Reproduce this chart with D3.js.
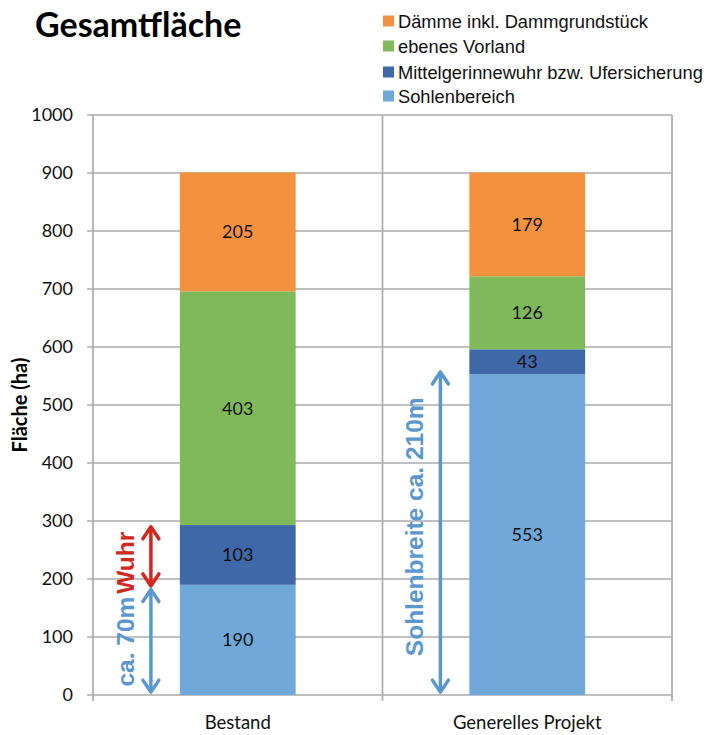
<!DOCTYPE html>
<html><head><meta charset="utf-8">
<script src="https://cdn.jsdelivr.net/npm/d3@7"></script>
<style>body{margin:0;background:#fff}</style>
</head><body>
<svg id="c" width="712" height="735"></svg>
<script>
const categories = ["Bestand", "Generelles Projekt"];
const seriesNames = ["Sohlenbereich", "Mittelgerinnewuhr bzw. Ufersicherung", "ebenes Vorland", "Dämme inkl. Dammgrundstück"];
const sohlenbereich = [190, 553];
const mittelgerinne = [103, 43];
const vorland = [403, 126];
const daemme = [205, 179];
const yTicks = [0,100,200,300,400,500,600,700,800,900,1000];
const colors = ["#6FA8D9", "#3F68A9", "#80B95A", "#F4913F"];
// annotations (values in ha along the y axis)
const annotations = [
  {cat:"Bestand", from:290, to:188, label:"Wuhr", color:"#D1281F", textMid:228},
  {cat:"Bestand", from:182, to:5, label:"ca. 70m", color:"#5B97CF", textMid:92},
  {cat:"Generelles Projekt", from:557, to:5, label:"Sohlenbreite ca. 210m", color:"#5B97CF", textMid:290}
];

const svg = d3.select("#c");
const L=93, R=672, T=115, B=695;
const x = d3.scaleBand().domain(categories).range([L,R]).paddingInner(0).paddingOuter(0);
const y = d3.scaleLinear().domain([0,1000]).range([B,T]);
const grid = "#ABABAB";
const calib = "Lato, 'Open Sans', sans-serif";

// gridlines
svg.append("g").selectAll("line").data(yTicks).join("line")
  .attr("x1",L-6).attr("x2",R).attr("y1",d=>y(d)).attr("y2",d=>y(d))
  .attr("stroke",grid).attr("stroke-width",1.7);
const edges = [L, ...categories.map(c=>x(c)+x.bandwidth())];
svg.append("g").selectAll("line").data(edges).join("line")
  .attr("x1",d=>d).attr("x2",d=>d).attr("y1",T).attr("y2",B+6)
  .attr("stroke",grid).attr("stroke-width",1.7);

// y tick labels
svg.append("g").selectAll("text").data(yTicks).join("text")
  .attr("x",L-20).attr("y",d=>y(d)).attr("dy","0.36em").attr("text-anchor","end")
  .attr("font-family",calib).attr("font-size",18).attr("fill","#111")
  .text(d=>d);

// x labels
svg.append("g").selectAll("text").data(categories).join("text")
  .attr("x",d=>x(d)+x.bandwidth()/2).attr("y",729).attr("text-anchor","middle")
  .attr("font-family",calib).attr("font-size",18.5).attr("fill","#111")
  .text(d=>d);

// y axis title
svg.append("text").attr("transform","translate(27,405) rotate(-90)").attr("text-anchor","middle")
  .attr("font-family",calib).attr("font-weight","bold").attr("font-size",20)
  .text("Fläche (ha)");

// stacked bars
const table = categories.map((c,i)=>({cat:c, s0:sohlenbereich[i], s1:mittelgerinne[i], s2:vorland[i], s3:daemme[i]}));
const stack = d3.stack().keys(["s0","s1","s2","s3"])(table);
const barW = x.bandwidth()*0.4;
stack.forEach((layer,li)=>{
  const g = svg.append("g");
  g.selectAll("rect").data(layer).join("rect")
    .attr("x",d=>x(d.data.cat)+x.bandwidth()/2-barW/2).attr("width",barW)
    .attr("y",d=>y(d[1])).attr("height",d=>y(d[0])-y(d[1]))
    .attr("fill",colors[li]);
  g.selectAll("text").data(layer).join("text")
    .attr("x",d=>x(d.data.cat)+x.bandwidth()/2).attr("y",d=>(y(d[0])+y(d[1]))/2).attr("dy","0.36em")
    .attr("text-anchor","middle").attr("font-family",calib).attr("font-size",18).attr("fill","#111")
    .text(d=>d[1]-d[0]);
});

// annotation arrows
annotations.forEach(a=>{
  const ax = x(a.cat)+x.bandwidth()*0.2;
  const y1=y(a.from), y2=y(a.to);
  const g = svg.append("g").attr("stroke",a.color).attr("fill","none").attr("stroke-width",3.5)
    .attr("stroke-linecap","round").attr("stroke-linejoin","round");
  g.append("line").attr("x1",ax).attr("x2",ax).attr("y1",y1+1).attr("y2",y2-1);
  g.append("path").attr("d",`M${ax-8},${y1+12}L${ax},${y1}L${ax+8},${y1+12}`);
  g.append("path").attr("d",`M${ax-8},${y2-12}L${ax},${y2}L${ax+8},${y2-12}`);
  svg.append("text").attr("transform",`translate(${ax-17},${y(a.textMid)}) rotate(-90)`)
    .attr("text-anchor","middle").attr("font-family","'Liberation Sans', Arial, sans-serif")
    .attr("font-weight","bold").attr("font-size",24.5).attr("fill",a.color).text(a.label);
});

// title
svg.append("text").attr("x",35).attr("y",37).attr("font-family",calib)
  .attr("font-weight","bold").attr("font-size",34).attr("fill","#000").text("Gesamtfläche");

// legend (reverse order)
const legendItems = seriesNames.map((n,i)=>({n, c:colors[i]})).reverse();
const lg = svg.append("g");
const legendY = [21, 46, 72, 96];
legendItems.forEach((d,i)=>{
  const cy = legendY[i];
  lg.append("rect").attr("x",383).attr("y",cy-5.5).attr("width",11).attr("height",11).attr("fill",d.c);
  lg.append("text").attr("x",398).attr("y",cy).attr("dy","0.36em")
    .attr("font-family","'Liberation Sans', Arial, sans-serif")
    .attr("font-size",18.3).attr("fill","#111").text(d.n);
});
</script>
</body></html>
